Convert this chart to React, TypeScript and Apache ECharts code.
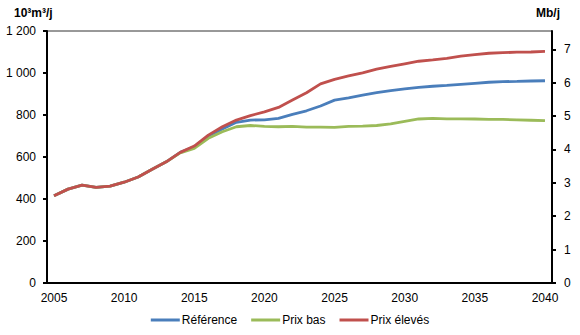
import React, { useEffect, useRef } from "react";
import * as echarts from "echarts";

const years: string[] = [];
for (let y = 2005; y <= 2040; y++) years.push(String(y));

const reference = [415, 447, 466, 455, 461, 480, 505, 542, 577, 622,
  648, 700, 733, 765, 776, 777, 784, 803, 820, 843,
  871, 882, 895, 906, 916, 924, 932, 937, 941, 946,
  951, 956, 959, 960, 962, 963];
const prixBas = [415, 447, 466, 455, 461, 480, 505, 542, 577, 620,
  641, 689, 720, 744, 750, 746, 744, 746, 742, 742,
  741, 746, 747, 750, 758, 770, 781, 784, 782, 782,
  781, 779, 779, 777, 775, 773];
const prixEleves = [415, 447, 466, 455, 461, 480, 505, 542, 577, 622,
  652, 704, 744, 776, 797, 815, 836, 871, 906, 948,
  970, 986, 1001, 1018, 1032, 1044, 1056, 1062, 1070, 1080,
  1087, 1094, 1097, 1099, 1100, 1103];

const leftMax = 1200;
const mbPerKm3 = 6.2898 / 1000;

const FONT = "Liberation Sans";

export default function App() {
  const ref = useRef<HTMLDivElement>(null);
  useEffect(() => {
    if (!ref.current) return;
    const chart = echarts.init(ref.current, null, { renderer: "svg" });
    const lineSeries = (name: string, data: number[], color: string) => ({
      name,
      type: "line",
      data,
      showSymbol: false,
      symbol: "none",
      smooth: false,
      lineStyle: { color, width: 2.8 },
      itemStyle: { color },
    });
    chart.setOption({
      animation: false,
      textStyle: { fontFamily: FONT },
      grid: { left: 47, right: 28, top: 31, bottom: 52, show: true, borderColor: "#333", borderWidth: 1 },
      legend: {
        bottom: 4,
        left: "center",
        icon: "rect",
        itemWidth: 29,
        itemHeight: 3,
        itemGap: 14,
        textStyle: { fontFamily: FONT, fontSize: 12, color: "#000", padding: [0, 0, 0, -3] },
        data: ["Référence", "Prix bas", "Prix élevés"],
      },
      xAxis: {
        type: "category",
        data: years,
        boundaryGap: true,
        axisLine: { lineStyle: { color: "#000", width: 2 } },
        axisTick: { interval: 4, length: 4, lineStyle: { color: "#000", width: 2 } },
        axisLabel: { interval: 4, margin: 9, fontSize: 12, color: "#000", fontFamily: FONT },
        splitLine: { show: false },
      },
      yAxis: [
        {
          type: "value",
          min: 0,
          max: leftMax,
          interval: 200,
          axisLine: { show: true, lineStyle: { color: "#000", width: 2 } },
          axisTick: { show: true, length: 4, lineStyle: { color: "#000", width: 2 } },
          axisLabel: {
            margin: 11,
            fontSize: 12,
            color: "#000",
            fontFamily: FONT,
            formatter: (v: number) => String(v).replace(/\B(?=(\d{3})+(?!\d))/g, " "),
          },
          splitLine: { show: false },
        },
        {
          type: "value",
          position: "right",
          min: 0,
          max: leftMax * mbPerKm3,
          interval: 1,
          axisLine: { show: true, lineStyle: { color: "#000", width: 2 } },
          axisTick: { show: true, length: 4, lineStyle: { color: "#000", width: 2 } },
          axisLabel: { margin: 12, fontSize: 12, color: "#000", fontFamily: FONT, showMaxLabel: false },
          splitLine: { show: false },
        },
      ],
      graphic: [
        { type: "text", left: 14, top: 7, style: { text: "10³m³/j", font: `bold 12px "${FONT}"`, fill: "#000" } },
        { type: "text", left: 536, top: 7, style: { text: "Mb/j", font: `bold 12px "${FONT}"`, fill: "#000" } },
      ],
      series: [
        lineSeries("Référence", reference, "#4A7EBB"),
        lineSeries("Prix bas", prixBas, "#9BBB59"),
        lineSeries("Prix élevés", prixEleves, "#C0504D"),
      ],
    });
    return () => chart.dispose();
  }, []);
  return <div ref={ref} style={{ width: 580, height: 335, position: "absolute", left: 0, top: 0 }} />;
}
